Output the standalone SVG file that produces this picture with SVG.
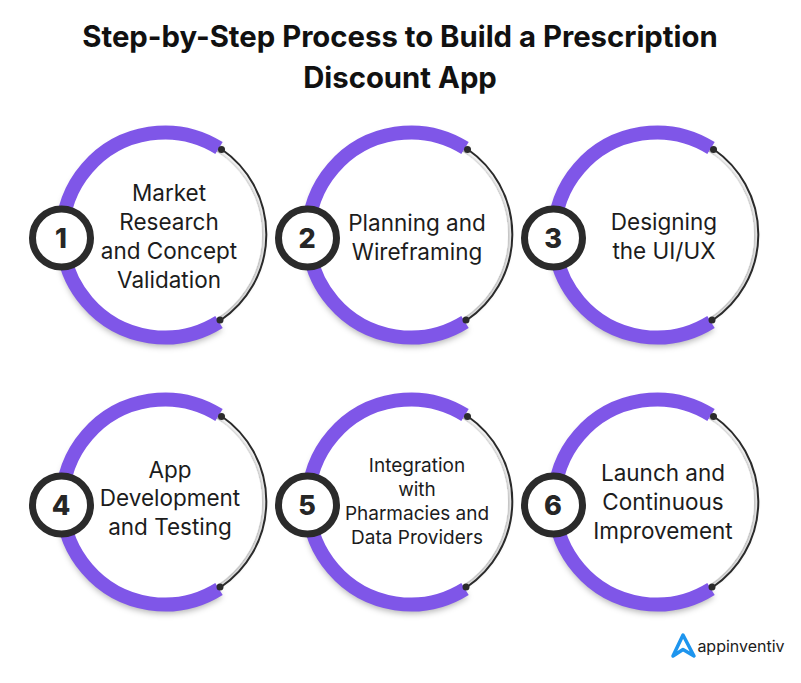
<svg xmlns="http://www.w3.org/2000/svg" width="801" height="683" viewBox="0 0 801 683">
<style>
text{font-family:"Inter","Liberation Sans",sans-serif;fill:#1c1c1c;text-anchor:middle}
.title{font-size:29.300px;font-weight:700;fill:#111}
.label{font-size:22.500px;font-weight:400}
.small{font-size:19px}
.num{font-size:27px;font-weight:800;fill:#262626}
.thin{fill:none;stroke:#2b2b2b;stroke-width:2}
.arc{fill:none;stroke:#7f56e8;stroke-width:14}
.badge{fill:#fff;stroke:#2b2b2b;stroke-width:7}
.dot{fill:#2b2b2b}
.halo{fill:#fff;filter:url(#soft)}
.under{fill:none;stroke:#000;stroke-opacity:.3;stroke-width:10;filter:url(#blur)}
</style>
<defs>
<filter id="soft" x="-20%" y="-20%" width="140%" height="140%"><feDropShadow dx="1" dy="1" stdDeviation="2.500" flood-color="#000" flood-opacity=".4"/></filter>
<filter id="blur" x="-20%" y="-20%" width="140%" height="140%"><feGaussianBlur stdDeviation="3"/></filter>
<g id="ring">
<path class="under" d="M56-83A102.500 102.500 0 1 0 56 91"/>
<circle class="halo" cx="0" cy="0" r="99"/>
<path class="thin" d="M58-85.500A103.500 103.500 0 0 1 57 85" transform="translate(1 0)"/>
<path class="arc" transform="translate(1 0)" d="M55-87A102.500 102.500 0 1 0 55 87"/>
<circle class="dot" cx="58.500" cy="-85.500" r="3.500"/>
<circle class="dot" cx="57" cy="85" r="3.500"/>
<circle class="badge" cx="-101.500" cy="3" r="29"/>
</g>
</defs>
<rect width="801" height="683" fill="#fff"/>
<text class="title" x="400" y="47">Step-by-Step Process to Build a Prescription</text>
<text class="title" x="400" y="88">Discount App</text>
<g id="step-1"><use href="#ring" x="163" y="235"/><text class="num" x="61" y="248">1</text>
<text class="label" x="169" y="201">Market</text><text class="label" x="169" y="230">Research</text><text class="label" x="169" y="259">and Concept</text><text class="label" x="169" y="288">Validation</text></g>
<g id="step-2"><use href="#ring" x="409" y="235"/><text class="num" x="307" y="248">2</text>
<text class="label" x="417" y="231">Planning and</text><text class="label" x="417" y="260">Wireframing</text></g>
<g id="step-3"><use href="#ring" x="655" y="235"/><text class="num" x="553" y="248">3</text>
<text class="label" x="664" y="230">Designing</text><text class="label" x="664" y="259">the UI/UX</text></g>
<g id="step-4"><use href="#ring" x="163" y="502"/><text class="num" x="61" y="515">4</text>
<text class="label" x="170" y="478">App</text><text class="label" x="170" y="506">Development</text><text class="label" x="170" y="535">and Testing</text></g>
<g id="step-5"><use href="#ring" x="409" y="502"/><text class="num" x="307" y="515">5</text>
<text class="label small" x="417" y="472">Integration</text><text class="label small" x="417" y="496">with</text><text class="label small" x="417" y="520">Pharmacies and</text><text class="label small" x="417" y="544">Data Providers</text></g>
<g id="step-6"><use href="#ring" x="655" y="502"/><text class="num" x="553" y="515">6</text>
<text class="label" x="663" y="481">Launch and</text><text class="label" x="663" y="510">Continuous</text><text class="label" x="663" y="539">Improvement</text></g>
<g id="logo">
<path d="M683 635L694 656L683 649.500L673 656Z" fill="none" stroke="#1e95ee" stroke-width="3.500" stroke-linejoin="round"/>
<text x="741" y="652" style="font-size:16px;font-weight:400">appinventiv</text>
</g>
</svg>
